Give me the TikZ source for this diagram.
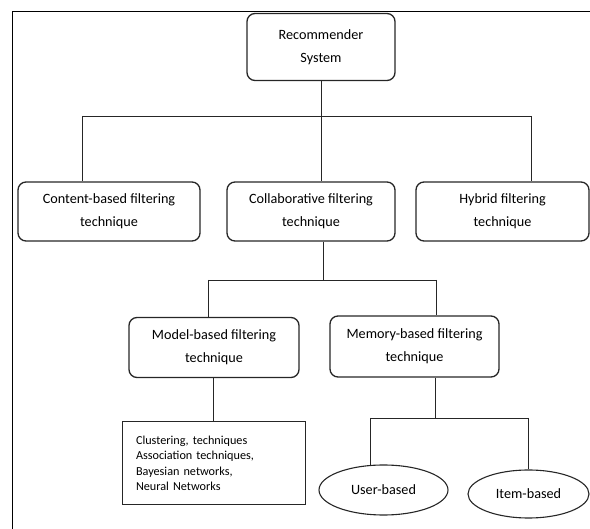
\documentclass[tikz,border=0pt]{standalone}
\usepackage{fontspec}
\setmainfont{Carlito}
\usetikzlibrary{shapes.geometric}
\begin{document}
\begin{tikzpicture}[x=1pt,y=-1pt,
  rbox/.style={draw=black!85,line width=1.3pt,rounded corners=8pt,align=center,
    font=\fontsize{14.2}{23}\selectfont,inner sep=0pt},
  sqbox/.style={draw=black!85,line width=1pt,align=left,inner xsep=14pt,inner ysep=0pt,
    font=\fontsize{12.2}{15.4}\selectfont,text width=155pt,minimum height=83pt},
  oval/.style={draw=black!85,line width=1.1pt,ellipse,inner sep=0pt,
    font=\fontsize{14.2}{17}\selectfont},
  conn/.style={draw=black!85,line width=0.9pt},
  frame/.style={draw=black,line width=1.6pt}]
\useasboundingbox (0,0) rectangle (590,529);
% frame (top and left sides visible)
\coordinate (ftl) at (12.5,11.5);
\coordinate (ftr) at (591,11.5);
\coordinate (fbl) at (12.5,530);
\draw[frame] (ftr) -- (ftl) -- (fbl);

% nodes
\node[rbox,minimum width=148pt,minimum height=67pt] (root) at (321,47) {Recommender\\System};
\node[rbox,minimum width=182pt,minimum height=59pt] (content) at (109,211.5) {Content-based filtering\\technique};
\node[rbox,minimum width=168pt,minimum height=59pt] (collab) at (311,211.5) {Collaborative filtering\\technique};
\node[rbox,minimum width=173pt,minimum height=59pt] (hybrid) at (502.5,211.5) {Hybrid filtering\\technique};
\node[rbox,minimum width=170pt,minimum height=60pt] (model) at (214,347.5) {Model-based filtering\\technique};
\node[rbox,minimum width=169pt,minimum height=61pt] (memory) at (414.5,346.5) {Memory-based filtering\\technique};
\node[sqbox,minimum width=183pt] (algos) at (213.5,463.5) {Clustering, techniques\\Association techniques,\\Bayesian networks,\\Neural Networks};
\node[oval,minimum width=129pt,minimum height=50pt] (user) at (383.5,490) {User-based};
\node[oval,minimum width=121pt,minimum height=48pt] (item) at (528.5,494) {Item-based};

% level 1 connectors
\coordinate (b1) at (82,116);
\coordinate (b2) at (531,116);
\coordinate (r1) at (321,116);
\draw[conn] (root.south) -- (r1);
\draw[conn] (b1) -- (b2);
\draw[conn] (b1) -- (b1 |- content.north);
\draw[conn] (r1) -- (r1 |- collab.north);
\draw[conn] (b2) -- (b2 |- hybrid.north);

% level 2 connectors
\coordinate (c0) at (323,280);
\coordinate (c1) at (208,280);
\coordinate (c2) at (436,280);
\draw[conn] (c0 |- collab.south) -- (c0);
\draw[conn] (c1) -- (c2);
\draw[conn] (c1) -- (c1 |- model.north);
\draw[conn] (c2) -- (c2 |- memory.north);

% model -> algorithms
\draw[conn] (213,0 |- model.south) -- (213,0 |- algos.north);

% memory -> user/item
\coordinate (m0) at (435,418);
\coordinate (m1) at (370,418);
\coordinate (m2) at (528,418);
\draw[conn] (m0 |- memory.south) -- (m0);
\draw[conn] (m1) -- (m2);
\draw[conn] (m1) -- (370,465.5);
\draw[conn] (m2) -- (m2 |- item.north);
\end{tikzpicture}
\end{document}
